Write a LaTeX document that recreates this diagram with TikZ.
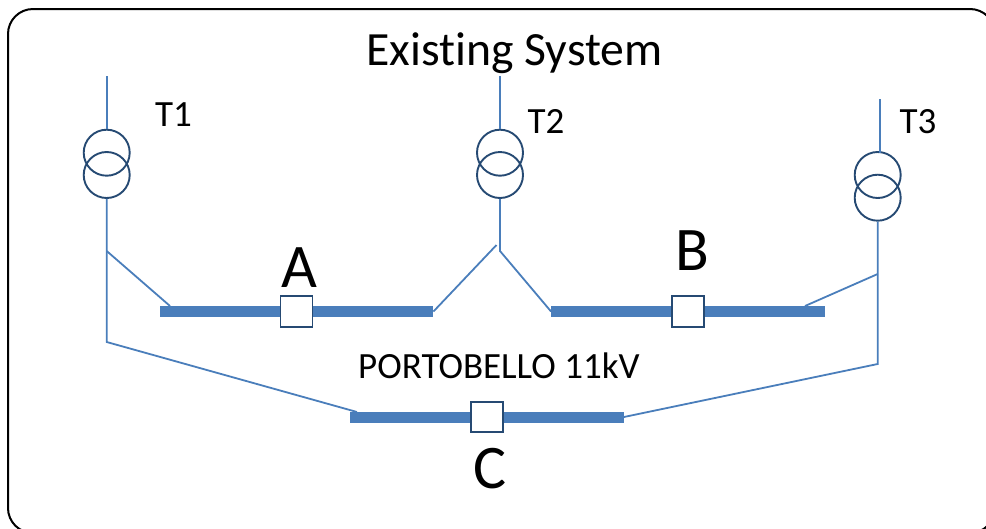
\documentclass[tikz,border=0pt]{standalone}
\usepackage{fontspec}
\setmainfont[Ligatures=NoCommon]{Carlito}
\definecolor{wirecol}{HTML}{4A7EBB}
\definecolor{darkcol}{HTML}{264A73}
\tikzset{
  wire/.style={draw=wirecol,line width=1.8pt},
  coil/.style={circle,draw=darkcol,line width=1.9pt,minimum size=46pt,inner sep=0pt},
  busbar/.style={rectangle,fill=wirecol,minimum width=273.5pt,minimum height=11pt,inner sep=0pt},
  breaker/.style={rectangle,draw=darkcol,fill=white,line width=1.9pt,minimum width=32pt,minimum height=30.5pt,inner sep=0pt},
  small/.style={anchor=base west,inner sep=0pt,font=\fontsize{37}{40}\selectfont},
  big/.style={anchor=base,inner sep=0pt,font=\fontsize{62}{66}\selectfont},
  titletext/.style={anchor=base,inner sep=0pt,font=\fontsize{47.7}{52}\selectfont},
  frame/.style={draw=black,line width=2pt,rounded corners=25pt}
}
\begin{document}
\begin{tikzpicture}[x=1pt,y=-1pt]
\path[use as bounding box] (0,0) rectangle (986,528);
\clip (0,0) rectangle (986,528);
\draw[frame] (8,9) rectangle (995,533);
\node[titletext] (title) at (514.5,65) {Existing System};
% free line ends
\coordinate (t1top) at (106.7,76);
\coordinate (t2top) at (500,76);
\coordinate (t3top) at (880,99);
\coordinate (t3in) at (880,152.5);
\coordinate (j1a) at (106.7,251);
\coordinate (j1b) at (106.7,342);
\coordinate (j2) at (500,251);
\coordinate (j2l) at (496.5,245);
\coordinate (j3a) at (877.7,274);
\coordinate (j3b) at (877.7,364);
\coordinate (a1) at (170,306);
\coordinate (b2) at (805,306);
\coordinate (c1) at (357,412);
% busbars
\node[busbar] (busA) at (296.5,311.5) {};
\node[busbar] (busB) at (688,311.5) {};
\node[busbar] (busC) at (487,417) {};
% transformers
\node[coil] (t1a) at (106.7,152.7) {};
\node[coil] (t1b) at (106.7,175) {};
\node[coil] (t2a) at (500,152.7) {};
\node[coil] (t2b) at (500,175) {};
\node[coil] (t3a) at (877.7,175) {};
\node[coil] (t3b) at (877.7,197.7) {};
% breakers
\node[breaker] (brA) at (296.5,311.5) {};
\node[breaker] (brB) at (688,311.5) {};
\node[breaker] (brC) at (487,417) {};
% wires
\draw[wire] (t1top) -- (t1a.north);
\draw[wire] (t2top) -- (t2a.north);
\draw[wire] (t3top) -- (t3in);
\draw[wire] (t1b.south) -- (j1a) -- (j1b) -- (c1);
\draw[wire] (j1a) -- (a1);
\draw[wire] (t2b.south) -- (j2) -- (busB.west);
\draw[wire] (j2l) -- (busA.east);
\draw[wire] (t3b.south) -- (j3a) -- (j3b) -- (busC.east);
\draw[wire] (j3a) -- (b2);
% labels
\node[small] (l1) at (155,126) {T1};
\node[small] (l2) at (527.5,133) {T2};
\node[small] (l3) at (899.5,133) {T3};
\node[big] (la) at (299,287) {A};
\node[big] (lb) at (692,270) {B};
\node[big] (lc) at (490,488) {C};
\node[small] (lp) at (358,378) {PORTOBELLO 11kV};
\end{tikzpicture}
\end{document}
